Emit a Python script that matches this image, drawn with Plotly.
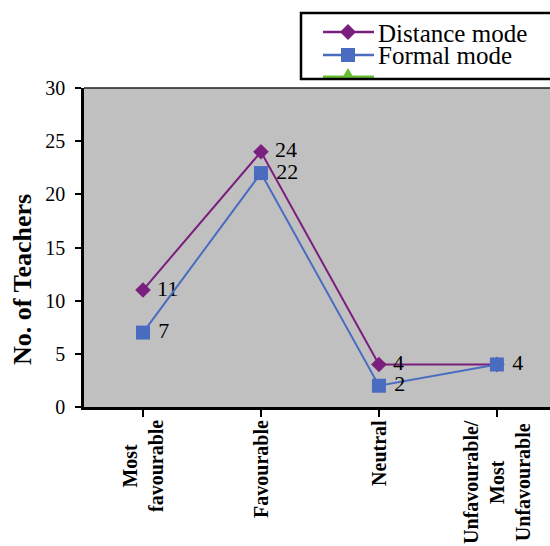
import plotly.graph_objects as go

categories = ["Most<br>favourable", "Favourable", "Neutral", "Unfavourable/<br>Most<br>Unfavourable"]
distance_mode = [11, 24, 4, 4]
formal_mode = [7, 22, 2, 4]
distance_labels = ["11", "24", "4", ""]
formal_labels = ["7", "22", "2", "4"]
y_ticks = [0, 5, 10, 15, 20, 25, 30]

PURPLE = "#7B1F7F"
BLUE = "#4A6CC0"
GREEN = "#66BF33"
FONT = "Liberation Serif, Times New Roman, serif"

W, H = 550, 546
L, R, T, B = 84, 0, 88, 139
PW, PH = W - L - R, H - T - B


def px(x):
    return (x - L) / PW


def py(y):
    return (H - B - y) / PH


x_idx = list(range(len(categories)))

fig = go.Figure()
fig.add_trace(go.Scatter(
    x=x_idx, y=distance_mode, mode="lines+markers+text", name="Distance mode",
    line=dict(color=PURPLE, width=2),
    marker=dict(symbol="diamond", size=12, color=PURPLE),
    text=distance_labels, texttemplate=" %{text}", textposition="middle right",
    textfont=dict(family=FONT, size=22, color="black"),
    cliponaxis=False, showlegend=False,
))
fig.add_trace(go.Scatter(
    x=x_idx, y=formal_mode, mode="lines+markers+text", name="Formal mode",
    line=dict(color=BLUE, width=2),
    marker=dict(symbol="square", size=14, color=BLUE),
    text=formal_labels, texttemplate=" %{text}", textposition="middle right",
    textfont=dict(family=FONT, size=22, color="black"),
    cliponaxis=False, showlegend=False,
))

shapes = []
annotations = []

# top border of plot area
shapes.append(dict(type="line", xref="paper", yref="paper", x0=0, x1=1.05, y0=1, y1=1,
                   line=dict(color="#222222", width=1.5)))

# manual legend
shapes.append(dict(type="line", xref="paper", yref="paper",
                   x0=px(323), x1=px(374), y0=py(77), y1=py(77),
                   line=dict(color=GREEN, width=3)))
shapes.append(dict(type="path", xref="paper", yref="paper",
                   path=f"M {px(341)} {py(80)} L {px(348)} {py(68)} L {px(355)} {py(80)} Z",
                   fillcolor=GREEN, line=dict(color=GREEN, width=0)))
shapes.append(dict(type="rect", xref="paper", yref="paper",
                   x0=px(302), x1=px(560), y0=py(86), y1=py(80),
                   fillcolor="white", line=dict(width=0)))
shapes.append(dict(type="line", xref="paper", yref="paper",
                   x0=px(323), x1=px(374), y0=py(32), y1=py(32),
                   line=dict(color=PURPLE, width=2.5)))
shapes.append(dict(type="path", xref="paper", yref="paper",
                   path=f"M {px(348)} {py(24)} L {px(356)} {py(32)} L {px(348)} {py(40)} L {px(340)} {py(32)} Z",
                   fillcolor=PURPLE, line=dict(width=0)))
shapes.append(dict(type="line", xref="paper", yref="paper",
                   x0=px(323), x1=px(374), y0=py(55), y1=py(55),
                   line=dict(color=BLUE, width=2.5)))
shapes.append(dict(type="rect", xref="paper", yref="paper",
                   x0=px(341), x1=px(355), y0=py(62), y1=py(48),
                   fillcolor=BLUE, line=dict(width=0)))
shapes.append(dict(type="rect", xref="paper", yref="paper",
                   x0=px(301), x1=px(562), y0=py(79), y1=py(13),
                   fillcolor="rgba(0,0,0,0)", line=dict(color="black", width=2.5)))

annotations.append(dict(xref="paper", yref="paper", x=px(376), y=py(33),
                        xanchor="left", yanchor="middle", showarrow=False,
                        text="Distance mode", font=dict(family=FONT, size=25, color="black")))
annotations.append(dict(xref="paper", yref="paper", x=px(376), y=py(56),
                        xanchor="left", yanchor="middle", showarrow=False,
                        text="Formal mode", font=dict(family=FONT, size=25, color="black")))

# y axis title
annotations.append(dict(xref="paper", yref="paper", x=px(22), y=py(280),
                        xanchor="center", yanchor="middle", showarrow=False, textangle=-90,
                        text="<b>No. of Teachers</b>", font=dict(family=FONT, size=26, color="black")))

# category labels
for i, c in enumerate(categories):
    annotations.append(dict(xref="x", yref="paper", x=i, y=py(418),
                            xanchor="center", yanchor="top", showarrow=False, textangle=-90,
                            align="center", text=f"<b>{c}</b>",
                            font=dict(family=FONT, size=20, color="black")))

fig.update_layout(
    width=W, height=H,
    margin=dict(l=L, r=R, t=T, b=B, autoexpand=False),
    paper_bgcolor="white", plot_bgcolor="#C0C0C0",
    shapes=shapes, annotations=annotations,
    showlegend=False,
    font=dict(family=FONT, color="black"),
)
fig.update_xaxes(
    range=[-0.5, len(categories) - 0.55],
    tickvals=x_idx, ticktext=["" for _ in categories],
    showticklabels=False,
    ticks="outside", ticklen=7, tickwidth=2, tickcolor="black",
    tickson="boundaries",
    showline=True, linecolor="black", linewidth=2.5,
    showgrid=False, zeroline=False,
)
fig.update_yaxes(
    range=[0, 30], tickvals=y_ticks,
    ticks="outside", ticklen=6, tickwidth=2, tickcolor="black",
    tickfont=dict(family=FONT, size=20, color="black"),
    ticklabelstandoff=6,
    showline=True, linecolor="black", linewidth=2.5,
    showgrid=False, zeroline=False,
)

fig.write_html("out.html")
